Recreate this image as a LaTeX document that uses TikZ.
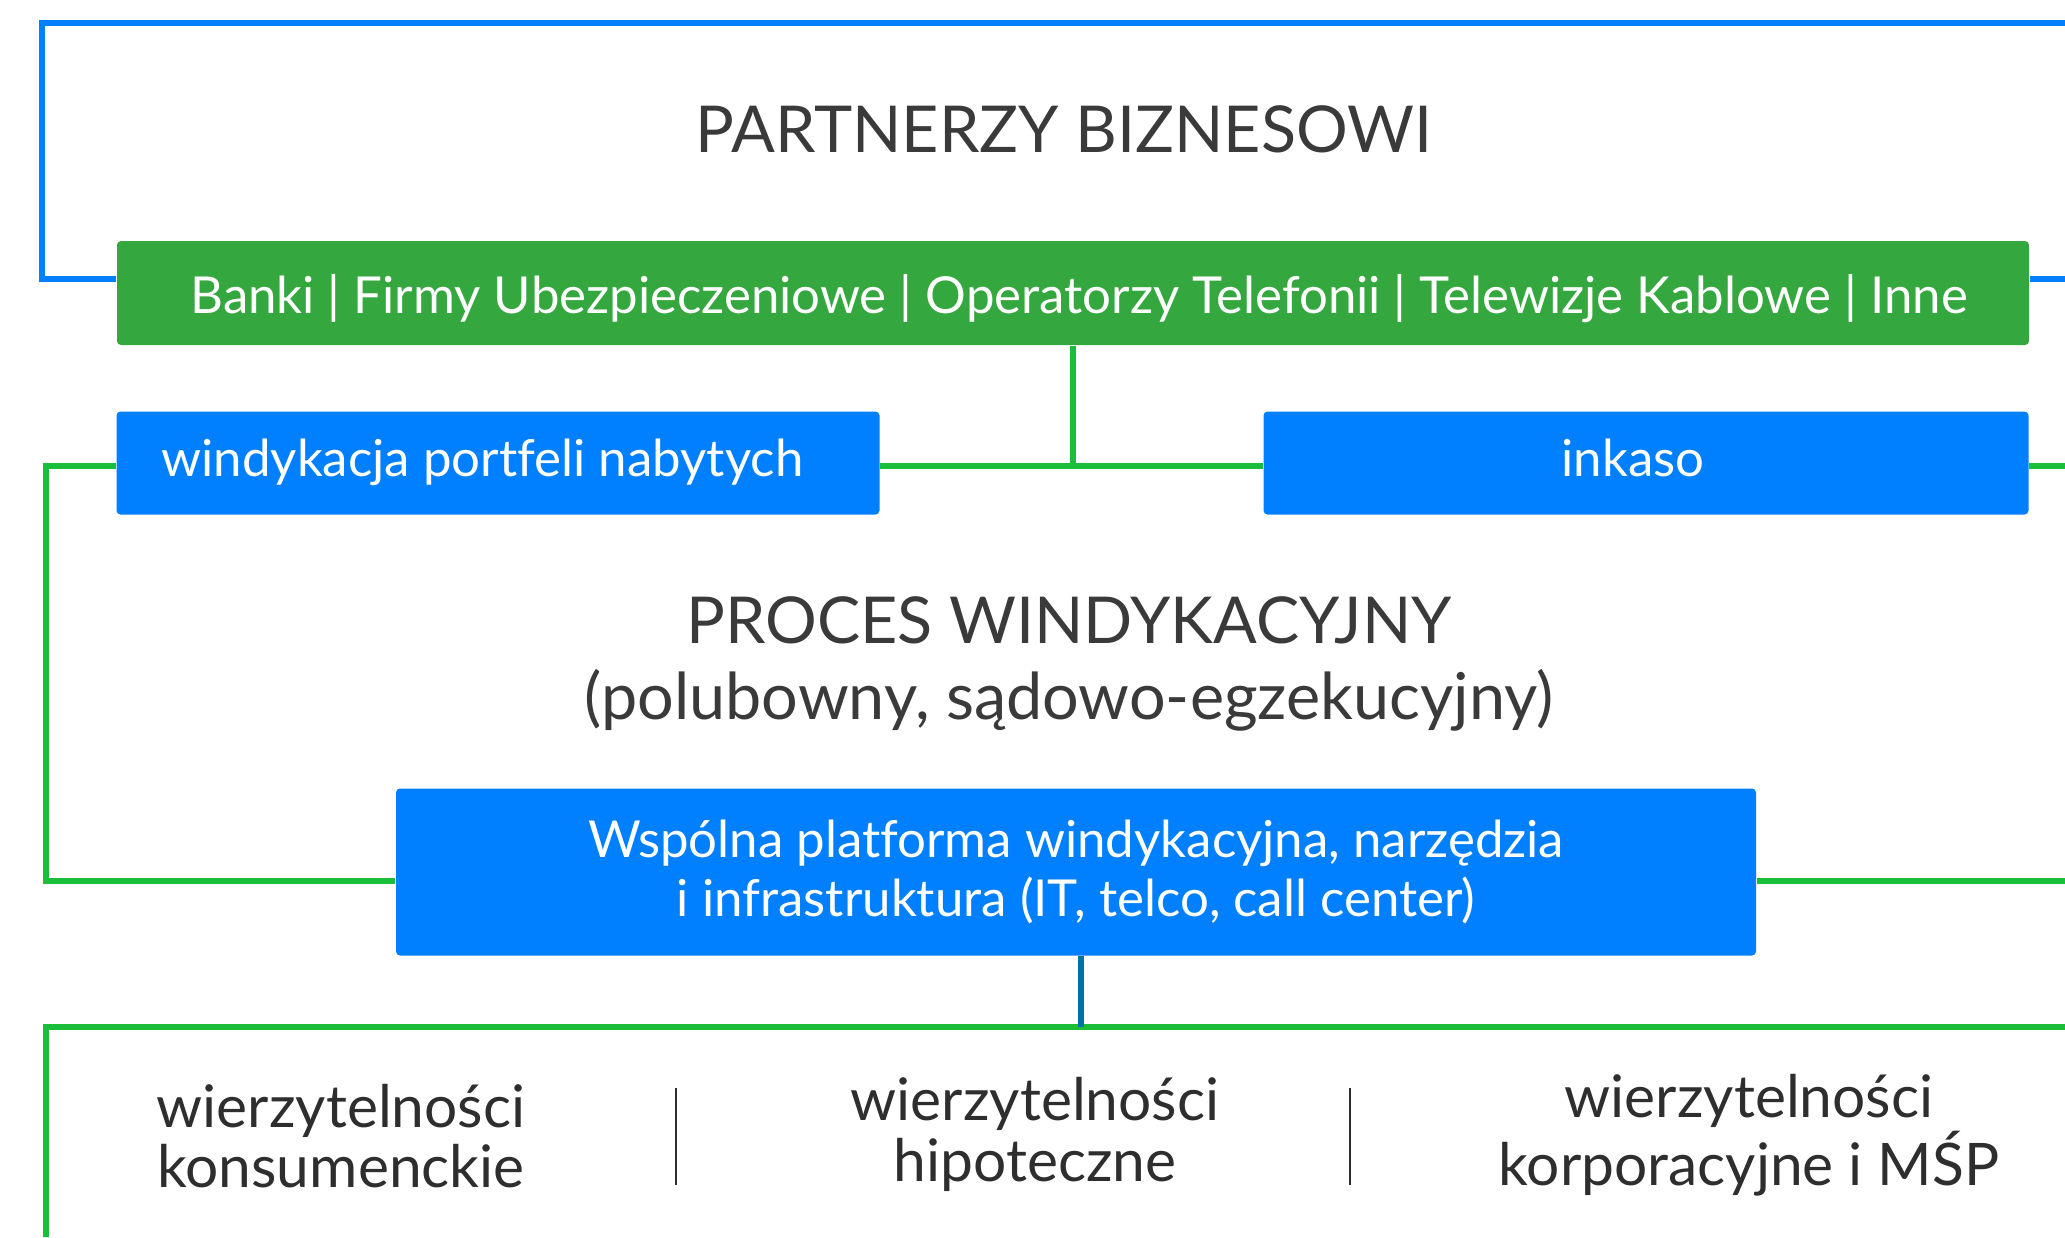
\documentclass[tikz,border=0pt]{standalone}
\usepackage{fontspec}
\setmainfont{Lato}[Ligatures=NoCommon]
\usepackage{tikz}

\definecolor{boxblue}{RGB}{0,127,255}
\definecolor{boxgreen}{RGB}{52,168,62}
\definecolor{linegreen}{RGB}{27,190,58}
\definecolor{lineteal}{RGB}{0,112,170}
\definecolor{textgray}{RGB}{58,58,58}

\begin{document}
\begin{tikzpicture}[x=0.1mm, y=-0.1mm,
	box/.style={rectangle, rounded corners=0.4mm, inner sep=0pt, text=white, font=\fontsize{14.5}{16.8}\selectfont},
	greenbox/.style={box, fill=boxgreen, text height=11.5pt, text depth=0pt},
	bluebox/.style={box, fill=boxblue, text height=10.9pt, text depth=3.2pt},
	heading/.style={text=textgray, font=\fontsize{18.4}{21.6}\selectfont},
	kind/.style={text=textgray!80!black, align=center, font=\fontsize{16.7}{17.3}\selectfont},
	blueline/.style={boxblue, line width=1.7pt},
	greenline/.style={linegreen, line width=1.5pt},
	tealline/.style={lineteal, line width=1.6pt},
	sepline/.style={textgray!80!black, line width=0.8pt}]
	\useasboundingbox (0,0) rectangle (2065,1237);

	\node[heading] (Partners) at (1064, 129) {PARTNERZY BIZNESOWI};
	\node[greenbox, minimum width=191.2mm, minimum height=10.4mm] (Banks) at (1073, 293)
		{\hspace*{1.2mm}Banki | Firmy Ubezpieczeniowe | Operatorzy Telefonii | Telewizje Kablowe | Inne};

	\node[bluebox, minimum width=76.3mm, minimum height=10.3mm, inner xsep=4.5mm] (Portfolio) at (498, 463)
		{\makebox[67.3mm][l]{windykacja portfeli nabytych}};
	\node[bluebox, minimum width=76.5mm, minimum height=10.3mm] (Collection) at (1646, 463) {inkaso\hspace*{2.6mm}};

	\node[heading, align=center] (Process) at (1069, 664)
		{PROCES WINDYKACYJNY\\(polubowny, sądowo-egzekucyjny)};

	\node[bluebox, minimum width=136mm, minimum height=16.7mm, align=center,
		text height=, text depth=] (Platform) at (1076, 872)
		{Wspólna platforma windykacyjna, narzędzia\\i infrastruktura (IT, telco, call center)};

	\node[kind] (Consumer)  at (341, 1136)  {wierzytelności\\konsumenckie};
	\node[kind] (Mortgage)  at (1035, 1134) {wierzytelności\\hipoteczne};
	\node[kind] (Corporate) at (1749, 1135) {wierzytelności\\korporacyjne i MŚP};

	\coordinate (bTL) at (42, 23);
	\coordinate (bTR) at (2065, 23);
	\coordinate (bBL) at (42, 279);
	\coordinate (bBR) at (2065, 279);
	\coordinate (gTL) at (46, 466);
	\coordinate (gTR) at (2065, 466);
	\coordinate (gBL) at (46, 881);
	\coordinate (gBR) at (2065, 881);
	\coordinate (hL) at (46, 1027);
	\coordinate (hR) at (2065, 1027);
	\coordinate (hEnd) at (46, 1237);

	% partners frame
	\draw[blueline] (Banks.west |- bBL) -- (bBL) -- (bTL) -- (bTR);
	\draw[blueline] (Banks.east |- bBR) -- (bBR);

	% process frame
	\draw[greenline] (Banks.south) -- (Banks.south |- gTL);
	\draw[greenline] (Portfolio.west |- gTL) -- (gTL) -- (gBL) -- (Platform.west |- gBL);
	\draw[greenline] (Portfolio.east |- gTL) -- (Collection.west |- gTL);
	\draw[greenline] (Collection.east |- gTR) -- (gTR);
	\draw[greenline] (Platform.east |- gBR) -- (gBR);

	% debt types
	\draw[greenline] (hR) -- (hL) -- (hEnd);
	\draw[tealline] (Platform.south -| 1081,0) -- (hL -| 1081,0);
	\draw[sepline] (676, 1088) -- (676, 1185);
	\draw[sepline] (1350, 1088) -- (1350, 1185);
\end{tikzpicture}
\end{document}
